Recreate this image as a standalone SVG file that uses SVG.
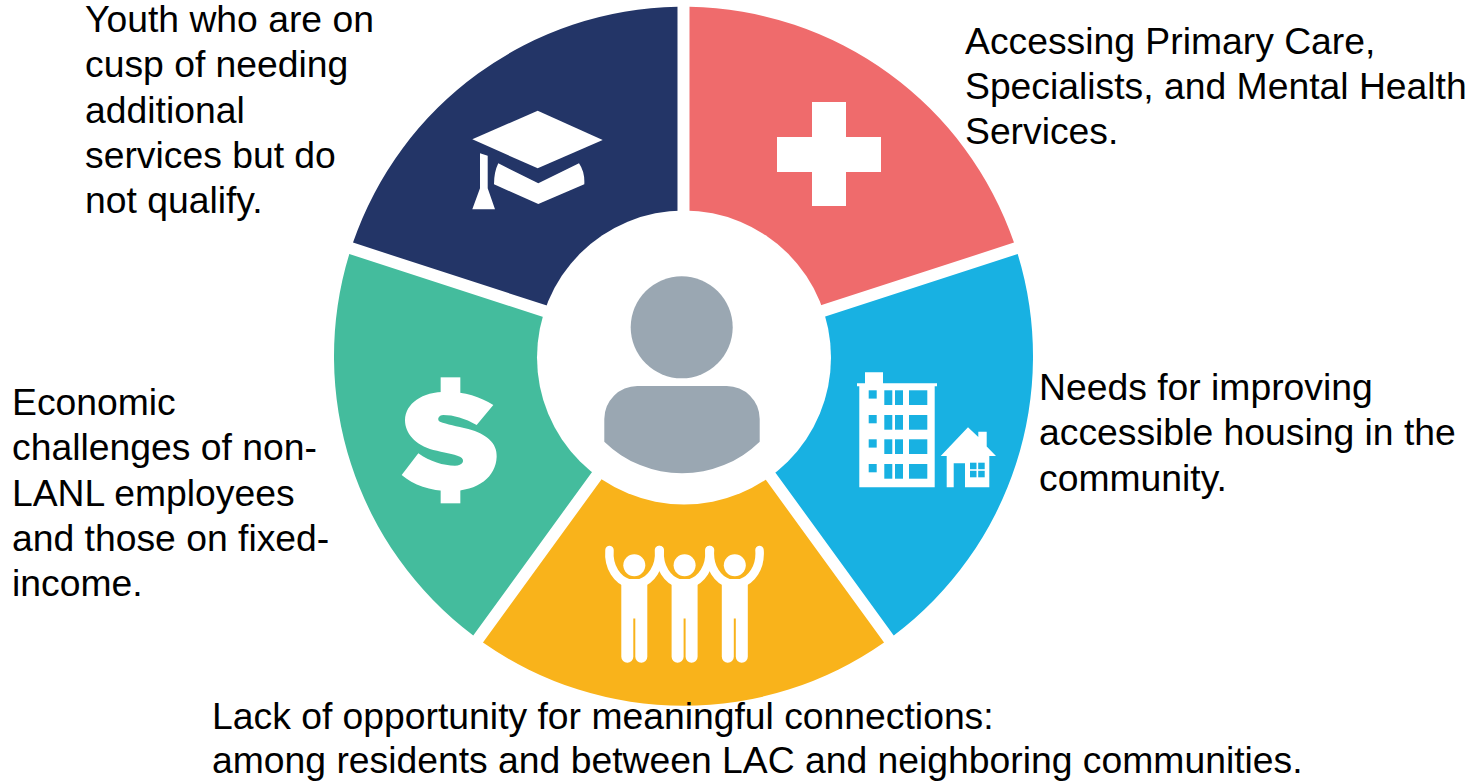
<svg xmlns="http://www.w3.org/2000/svg" xmlns:xlink="http://www.w3.org/1999/xlink" width="1484" height="781" viewBox="0 0 1484 781">
<style>
text{font-family:"Liberation Sans",Arial,sans-serif;font-size:37.3px;fill:#000}
.i{fill:#fff}
.b{fill:#18B1E2}
</style>
<defs>
<path id="wedge" d="M6,-349.45A349.5,349.5 0 0 1 330.49,-113.69L131.17,-48.93A140,140 0 0 0 6,-139.87Z"/>
<g id="fig">
<circle class="i" cx="634.3" cy="565.3" r="11"/>
<path class="i" d="M621.3,579H647.3V656.7a6,6 0 0 1-12,0V618.5H633.3V656.700a6,6 0 0 1-12,0Z"/>
<path d="M609.5,550C608,568 618,580 628,583M659,550C660.500,568 650.500,580 640.500,583" fill="none" stroke="#fff" stroke-width="8.500" stroke-linecap="round"/>
</g>
</defs>
<rect width="1484" height="781" fill="#fff"/>
<g id="wheel" transform="translate(683.500 356.300)">
<use xlink:href="#wedge" href="#wedge" fill="#EF6B6C"/>
<use xlink:href="#wedge" href="#wedge" fill="#18B1E2" transform="rotate(72)"/>
<use xlink:href="#wedge" href="#wedge" fill="#F9B31B" transform="rotate(144)"/>
<use xlink:href="#wedge" href="#wedge" fill="#44BC9D" transform="rotate(216)"/>
<use xlink:href="#wedge" href="#wedge" fill="#233567" transform="rotate(288)"/>
</g>
<circle id="hub" cx="684" cy="357.500" r="147" fill="#fff"/>
<g id="person" fill="#9AA7B2">
<circle cx="681.700" cy="327.300" r="51"/>
<path d="M637.300,386H726.700A33,33 0 0 1 759.700,419V441.700A111.300,111.300 0 0 1 604.300,441.700V419A33,33 0 0 1 637.300,386Z"/>
</g>
<g id="icon-cap" class="i">
<path d="M537.700,110.700L602.700,140L537.700,168.300L472.300,139.300Z"/>
<path d="M480,153.300L487.700,155.700V188.300L495,209.300H472.300L480,188.300Z"/>
<path d="M498.300,163.300L538.300,183.300L579,163.300Q585,172 584.300,184.300L538.300,204L494,184.300Q494,172 498.300,163.300Z"/>
</g>
<g id="icon-cross" class="i"><path d="M812,102H846V137H881V172H846V206H812V172H777V137H812Z"/></g>
<g id="icon-building" class="i">
<path d="M865,372.300H883V383.300H937V386.300H934.700V487.300H859.300V386.300H857V383.300H865Z"/>
<path d="M940.700,456L968,427.300L978.300,437V431.700H986.700V446.500L996,456H989.300V487.300H965V463.300H953.700V487.300H946.700V456Z"/>
<g class="b">
<rect x="868.700" y="390.300" width="8" height="8.300"/><rect x="884.300" y="390.300" width="8" height="14.700"/><rect x="895" y="390.300" width="8" height="14.700"/><rect x="909" y="390.300" width="18.300" height="14.700"/>
<rect x="868.700" y="415" width="8" height="8.300"/><rect x="884.300" y="415" width="8" height="14.700"/><rect x="895" y="415" width="8" height="14.700"/><rect x="909" y="415" width="18.300" height="14.700"/>
<rect x="868.700" y="439.300" width="8" height="8.300"/><rect x="884.300" y="439.300" width="8" height="14.700"/><rect x="895" y="439.300" width="8" height="14.700"/><rect x="909" y="439.300" width="18.300" height="14.700"/>
<rect x="868.700" y="464" width="8" height="8.300"/><rect x="884.300" y="464" width="8" height="14.700"/><rect x="895" y="464" width="8" height="14.700"/><rect x="909" y="464" width="18.300" height="14.700"/>
<rect x="970" y="462.700" width="6.500" height="6.500"/><rect x="978.200" y="462.700" width="6.500" height="6.500"/><rect x="970" y="470.800" width="6.500" height="6.500"/><rect x="978.200" y="470.800" width="6.500" height="6.500"/>
</g>
</g>
<g id="icon-people">
<use xlink:href="#fig" href="#fig"/>
<use xlink:href="#fig" href="#fig" x="50.300"/>
<use xlink:href="#fig" href="#fig" x="100.500"/>
</g>
<g id="icon-dollar" class="i" transform="translate(390 365) scale(.3333)">
<rect x="152" y="37" width="59" height="60"/><rect x="152" y="365" width="59" height="50"/>
<path d="M310,120L260,180C225,160 190,150 160,150C145,150 140,165 150,170C170,178 200,183 235,192C290,207 322,235 320,275C318,335 265,378 180,378C120,378 70,360 35,330L85,265C120,290 160,302 195,302C218,302 228,285 210,275C190,267 160,262 130,255C75,240 45,205 45,165C47,115 95,80 170,80C225,80 270,95 310,120Z"/>
</g>
<g id="label-youth">
<text x="85" y="32">Youth who are on</text><text x="85" y="77">cusp of needing</text><text x="85" y="123">additional</text><text x="85" y="168">services but do</text><text x="85" y="213">not qualify.</text>
</g>
<g id="label-care">
<text x="965" y="54">Accessing Primary Care,</text><text x="965" y="99">Specialists, and Mental Health</text><text x="965" y="144">Services.</text>
</g>
<g id="label-housing">
<text x="1039" y="400">Needs for improving</text><text x="1039" y="445">accessible housing in the</text><text x="1039" y="491">community.</text>
</g>
<g id="label-economic">
<text x="12" y="415">Economic</text><text x="12" y="460">challenges of non-</text><text x="12" y="506">LANL employees</text><text x="12" y="551">and those on fixed-</text><text x="12" y="596">income.</text>
</g>
<g id="label-connections">
<text x="212" y="729">Lack of opportunity for meaningful connections:</text><text x="212" y="773">among residents and between LAC and neighboring communities.</text>
</g>
</svg>
